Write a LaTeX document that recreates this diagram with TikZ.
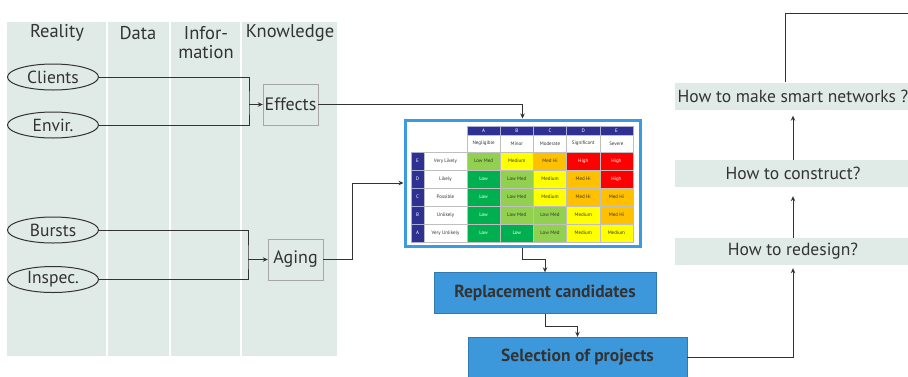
\documentclass[tikz,border=0pt]{standalone}
\usepackage{fontspec}
\setmainfont{PT Sans}
\usetikzlibrary{shapes.geometric,arrows.meta}
\definecolor{panelgrey}{HTML}{E0EAE7}
\definecolor{textgrey}{HTML}{333333}
\definecolor{boxblue}{HTML}{3C98DB}
\definecolor{framecolor}{HTML}{3A9BE0}
\definecolor{headblue}{HTML}{2E3192}
\definecolor{riskgreen}{HTML}{00B050}
\definecolor{risklime}{HTML}{92D050}
\definecolor{riskyellow}{HTML}{FFFF00}
\definecolor{riskorange}{HTML}{FFC000}
\definecolor{riskred}{HTML}{FF0000}
\tikzset{my ellipse/.style={draw=textgrey, ellipse, line width=1pt, minimum width=91pt, minimum height=26pt, inner sep=0pt, font=\fontsize{17.5}{19}\selectfont},
my knowledge/.style={draw=black!35, fill=panelgrey, minimum width=55pt, minimum height=41pt, inner sep=0pt, font=\fontsize{18}{20}\selectfont},
my question/.style={fill=panelgrey, minimum width=236pt, minimum height=27pt, inner sep=0pt, font=\fontsize{17.5}{19}\selectfont},
my action/.style={draw=boxblue!80!black, fill=boxblue, minimum height=41pt, inner sep=0pt, font=\fontsize{17.5}{19}\selectfont\bfseries},
my header/.style={font=\fontsize{18.5}{19}\selectfont, align=center},
my cell/.style={draw=black!25, line width=0.3pt, minimum width=33.2pt, minimum height=18pt, inner sep=0pt, font=\fontsize{5}{5}\selectfont},
my letter/.style={my cell, draw=white!60!headblue, fill=headblue, text=white},
my line/.style={draw=textgrey, line width=1pt},
my arrow/.style={my line, -{Stealth[length=5pt,width=4.5pt]}},}

\begin{document}
\begin{tikzpicture}[x=1pt, y=-1pt, every node/.append style={text=textgrey}]
\useasboundingbox (0,0) rectangle (908,376);
% left panel with the four columns
\fill [panelgrey] (7,22) rectangle (337,356);
\draw [white, line width=1.5pt] (107,22) -- (107,356);
\draw [white, line width=1.5pt] (170,22) -- (170,356);
\draw [white, line width=1.5pt] (241,22) -- (241,356);
\node [my header] (hreality) at (57,33) {Reality};
\node [my header] (hdata) at (138,33) {Data};
\node [my header] (hinfo) at (206,42.5) {Infor-\\mation};
\node [my header] (hknow) at (290,33) {Knowledge};

\node [my ellipse] (clients) at (53,77) {Clients};
\node [my ellipse] (envir) at (53,125) {Envir.};
\node [my ellipse] (bursts) at (53,230) {Bursts};
\node [my ellipse] (inspec) at (53,279.5) {Inspec.};
\node [my knowledge] (effects) at (290.5,104.5) {Effects};
\node [my knowledge] (aging) at (295.5,259.5) {Aging};
\coordinate (joineffects) at (249,104.5);
\coordinate (joinaging) at (248,259.5);
\draw [my line] (clients.east) -| (joineffects) |- (envir.east);
\draw [my arrow] (joineffects) -- (effects.west);
\draw [my line] (bursts.east) -| (joinaging) |- (inspec.east);
\draw [my arrow] (joinaging) -- (aging.west);

% risk matrix
\node [draw=framecolor, line width=3pt, fill=white, minimum width=235pt, minimum height=126pt, inner sep=0pt] (riskmatrix) at (522.5,183) {};
\node [my letter, minimum height=9pt] (hA) at (483.6,130.5) {A};
\node [my letter, minimum height=9pt] (hB) at (516.8,130.5) {B};
\node [my letter, minimum height=9pt] (hC) at (550.0,130.5) {C};
\node [my letter, minimum height=9pt] (hD) at (583.2,130.5) {D};
\node [my letter, minimum height=9pt] (hE) at (616.4,130.5) {E};
\node [my cell, minimum height=17pt] (lA) at (483.6,143.5) {Negligible};
\node [my cell, minimum height=17pt] (lB) at (516.8,143.5) {Minor};
\node [my cell, minimum height=17pt] (lC) at (550.0,143.5) {Moderate};
\node [my cell, minimum height=17pt] (lD) at (583.2,143.5) {Significant};
\node [my cell, minimum height=17pt] (lE) at (616.4,143.5) {Severe};
\node [my letter, minimum width=13pt] (rE) at (417.5,161) {E};
\node [my letter, minimum width=13pt] (rD) at (417.5,179) {D};
\node [my letter, minimum width=13pt] (rC) at (417.5,197) {C};
\node [my letter, minimum width=13pt] (rB) at (417.5,215) {B};
\node [my letter, minimum width=13pt] (rA) at (417.5,233) {A};
\node [my cell, minimum width=43pt] (tE) at (445.5,161) {Very Likely};
\node [my cell, minimum width=43pt] (tD) at (445.5,179) {Likely};
\node [my cell, minimum width=43pt] (tC) at (445.5,197) {Possible};
\node [my cell, minimum width=43pt] (tB) at (445.5,215) {Unlikely};
\node [my cell, minimum width=43pt] (tA) at (445.5,233) {Very Unlikely};
\node [my cell, fill=risklime] (cEA) at (483.6,161) {Low Med};
\node [my cell, fill=riskyellow] (cEB) at (516.8,161) {Medium};
\node [my cell, fill=riskorange] (cEC) at (550.0,161) {Med Hi};
\node [my cell, fill=riskred, text=white] (cED) at (583.2,161) {High};
\node [my cell, fill=riskred, text=white] (cEE) at (616.4,161) {High};
\node [my cell, fill=riskgreen, text=white] (cDA) at (483.6,179) {Low};
\node [my cell, fill=risklime] (cDB) at (516.8,179) {Low Med};
\node [my cell, fill=riskyellow] (cDC) at (550.0,179) {Medium};
\node [my cell, fill=riskorange] (cDD) at (583.2,179) {Med Hi};
\node [my cell, fill=riskred, text=white] (cDE) at (616.4,179) {High};
\node [my cell, fill=riskgreen, text=white] (cCA) at (483.6,197) {Low};
\node [my cell, fill=risklime] (cCB) at (516.8,197) {Low Med};
\node [my cell, fill=riskyellow] (cCC) at (550.0,197) {Medium};
\node [my cell, fill=riskorange] (cCD) at (583.2,197) {Med Hi};
\node [my cell, fill=riskorange] (cCE) at (616.4,197) {Med Hi};
\node [my cell, fill=riskgreen, text=white] (cBA) at (483.6,215) {Low};
\node [my cell, fill=risklime] (cBB) at (516.8,215) {Low Med};
\node [my cell, fill=risklime] (cBC) at (550.0,215) {Low Med};
\node [my cell, fill=riskyellow] (cBD) at (583.2,215) {Medium};
\node [my cell, fill=riskorange] (cBE) at (616.4,215) {Med Hi};
\node [my cell, fill=riskgreen, text=white] (cAA) at (483.6,233) {Low};
\node [my cell, fill=riskgreen, text=white] (cAB) at (516.8,233) {Low};
\node [my cell, fill=risklime] (cAC) at (550.0,233) {Low Med};
\node [my cell, fill=riskyellow] (cAD) at (583.2,233) {Medium};
\node [my cell, fill=riskyellow] (cAE) at (616.4,233) {Medium};
\draw [my arrow] (effects.east) -| (riskmatrix.north);
\draw [my arrow] (aging.east) -- ++(29,0) |- (riskmatrix.west);

% projects
\node [my action, minimum width=222pt] (replacement) at (545,293) {Replacement candidates};
\node [my action, minimum width=219pt] (selection) at (577.5,357.5) {Selection of projects};
\draw [my arrow] (riskmatrix.south) -- ++(0,12) -| (replacement.north);
\draw [my arrow] (replacement.south) -- ++(0,13) -| (selection.north);

% questions
\node [my question] (redesign) at (793,251.5) {How to redesign?};
\node [my question] (construct) at (793,173.5) {How to construct?};
\node [my question] (smart) at (793,96) {How to make smart networks ?};
\coordinate (exit) at (908,13);
\draw [my arrow, shorten >=3pt] (selection.east) -| (redesign.south);
\draw [my arrow, shorten >=9pt] (redesign.north) -- (construct.south);
\draw [my arrow, shorten >=6pt] (construct.north) -- (smart.south);
\draw [my line] ([xshift=-8pt]smart.north) |- (exit);
\end{tikzpicture}
\end{document}
